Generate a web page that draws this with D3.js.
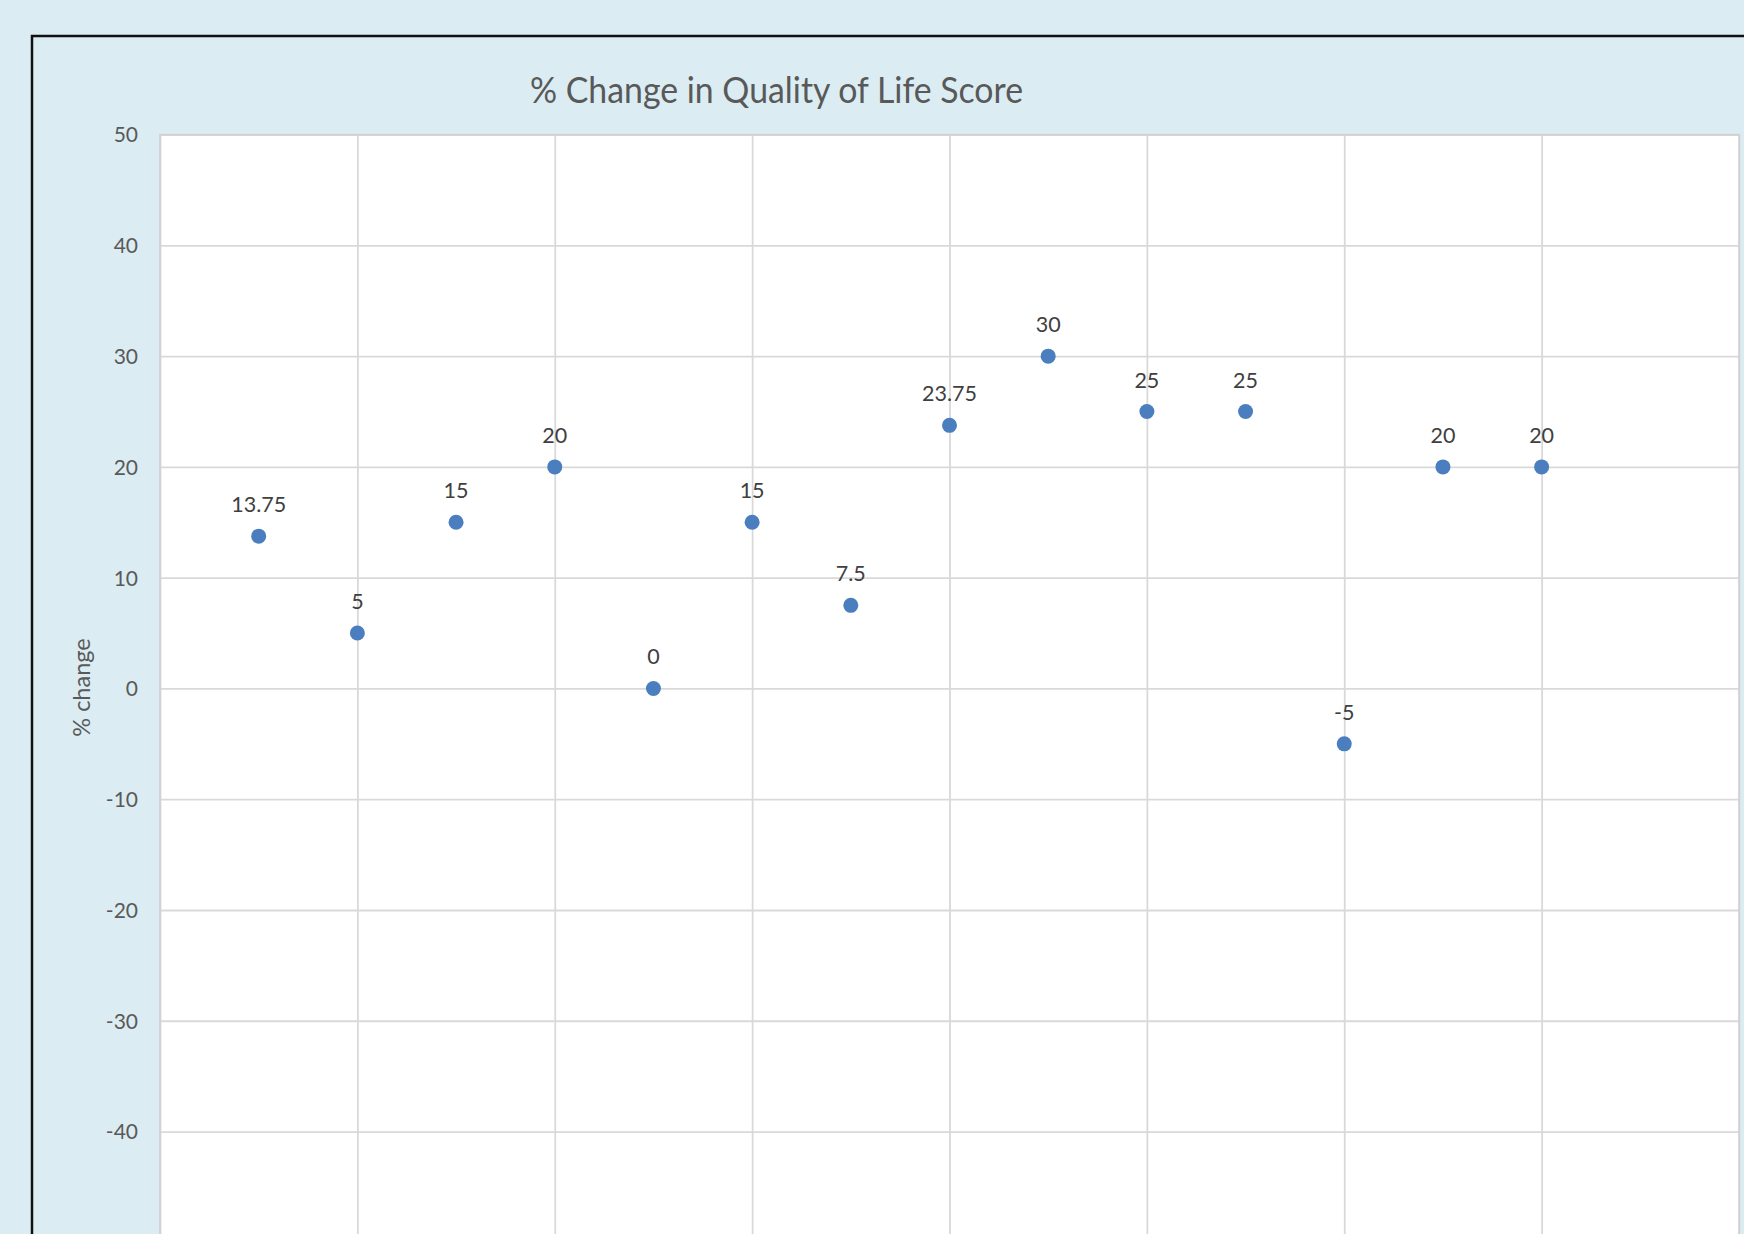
<!DOCTYPE html>
<html>
<head>
<meta charset="utf-8">
<script src="https://cdn.jsdelivr.net/npm/d3@7"></script>
<style>
  body { margin: 0; background: #dbedf3; }
  svg { display: block; }
  text { font-family: Lato, "Open Sans", sans-serif; }
</style>
</head>
<body>
<svg width="1744" height="1234"></svg>
<script>
// data
var xValues = [1, 2, 3, 4, 5, 6, 7, 8, 9, 10, 11, 12, 13, 14];
var changeValues = [13.75, 5, 15, 20, 0, 15, 7.5, 23.75, 30, 25, 25, -5, 20, 20];
var yTicks = [-50, -40, -30, -20, -10, 0, 10, 20, 30, 40, 50];
var xTicks = [0, 2, 4, 6, 8, 10, 12, 14, 16];

var svg = d3.select("svg");

// plot area edges (window.top is reserved, so no "top" here)
var plotLeft = 160, plotRight = 1739, plotTop = 134.6, plotBottom = 1242.3;

var x = d3.scaleLinear().domain([0, 16]).range([plotLeft, plotRight]);
var y = d3.scaleLinear().domain([-50, 50]).range([plotBottom, plotTop]);

// chart frame
svg.append("rect")
  .attr("x", 32).attr("y", 36)
  .attr("width", 1800).attr("height", 1400)
  .attr("fill", "#dbedf3")
  .attr("stroke", "#111")
  .attr("stroke-width", 2.5);

// plot area
svg.append("rect")
  .attr("x", plotLeft).attr("y", plotTop)
  .attr("width", plotRight - plotLeft).attr("height", plotBottom - plotTop)
  .attr("fill", "#fff");

// horizontal grid + labels (plain hyphen minus like excel)
var yAxis = svg.append("g")
  .attr("transform", "translate(" + plotLeft + ",0)")
  .call(d3.axisLeft(y).tickValues(yTicks).tickSize(-(plotRight - plotLeft)).tickPadding(22)
    .tickFormat(function(d) { return String(d); }));
yAxis.select(".domain").remove();
yAxis.selectAll("line").attr("stroke", "#d9d9d9").attr("stroke-width", 1.8);
yAxis.selectAll("text")
  .attr("fill", "#595959")
  .style("font-size", "21px")
  .attr("dy", "0.35em");

// vertical grid
var xAxis = svg.append("g")
  .attr("transform", "translate(0," + plotBottom + ")")
  .call(d3.axisBottom(x).tickValues(xTicks).tickSize(-(plotBottom - plotTop)).tickFormat(""));
xAxis.select(".domain").remove();
xAxis.selectAll("line").attr("stroke", "#d9d9d9").attr("stroke-width", 1.8);

// plot border on top of grid
svg.append("rect")
  .attr("x", plotLeft).attr("y", plotTop)
  .attr("width", plotRight - plotLeft).attr("height", plotBottom - plotTop)
  .attr("fill", "none")
  .attr("stroke", "#d0d0d0")
  .attr("stroke-width", 1.5);

// points
svg.append("g")
  .selectAll("circle")
  .data(changeValues)
  .enter()
  .append("circle")
  .attr("cx", function(d, i) { return x(xValues[i]); })
  .attr("cy", function(d) { return y(d); })
  .attr("r", 7.5)
  .attr("fill", "#4a7ebf");

// data labels
svg.append("g")
  .selectAll("text")
  .data(changeValues)
  .enter()
  .append("text")
  .attr("x", function(d, i) { return x(xValues[i]); })
  .attr("y", function(d) { return y(d) - 24; })
  .attr("text-anchor", "middle")
  .attr("fill", "#404040")
  .style("font-size", "21.5px")
  .text(function(d) { return String(d); });

// title
svg.append("text")
  .attr("x", 776.5)
  .attr("y", 102.5)
  .attr("text-anchor", "middle")
  .attr("fill", "#595959")
  .style("font-size", "36px")
  .attr("textLength", 493)
  .attr("lengthAdjust", "spacingAndGlyphs")
  .text("% Change in Quality of Life Score");

// y axis title
svg.append("text")
  .attr("transform", "translate(90,687.5) rotate(-90)")
  .attr("text-anchor", "middle")
  .attr("fill", "#595959")
  .style("font-size", "23.5px")
  .text("% change");
</script>
</body>
</html>
